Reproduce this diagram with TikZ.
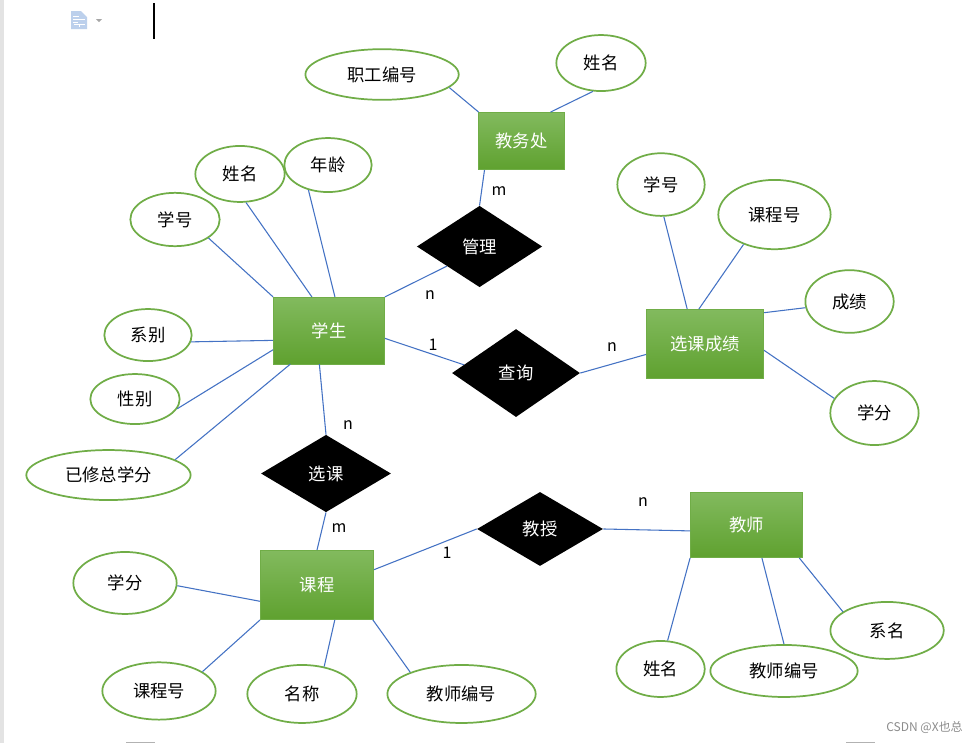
\documentclass[tikz,border=0pt]{standalone}
\usepackage{xcolor}
\usepackage{fontspec}
\setmainfont{Noto Sans CJK SC}
\usetikzlibrary{positioning,shapes.geometric}
\definecolor{ErGreen}{HTML}{70AD47}
\definecolor{ErTop}{HTML}{82BA5E}
\definecolor{ErBottom}{HTML}{5FA12F}
\definecolor{ErBlue}{HTML}{4472C4}
\definecolor{ErIcon}{HTML}{BCD0EC}

\begin{document}
\begin{tikzpicture}[
  x=0.75pt,y=-0.75pt,
  on grid,
  font=\fontsize{13}{15}\selectfont,
  entity/.style={draw=ErGreen,top color=ErTop,bottom color=ErBottom,text=white,inner sep=0pt},
  relation/.style={diamond,fill=black,text=white,inner sep=0pt},
  attr/.style={ellipse,draw=ErGreen,line width=1.3pt,fill=white,inner sep=0pt},
  link/.style={ErBlue,line width=0.8pt},
  card/.style={font=\fontsize{12}{14}\selectfont,inner sep=0pt}
]
  \useasboundingbox (0,0) rectangle (980,743);
  \fill[white] (0,0) rectangle (980,743);
  \fill[black!11] (0,0) rectangle (4,743);
  \fill[ErIcon] (71,11) -- (81,11) -- (87,17) -- (87,29) -- (71,29) -- cycle;
  \draw[white,line width=0.7pt] (73,16) -- (79,16) (73,19) -- (85,19) (73,22) -- (78,22) (74,24) -- (85,24) (79,24) -- (79,27);
  \fill[black!35] (96,19) -- (102,19) -- (99,22) -- cycle;
  \fill[black] (153,3) rectangle (155,39);
  \fill[black!30] (126,742) rectangle (155,743);
  \fill[black!30] (846,742) rectangle (875,743);

  \node[entity,minimum width=83.5pt,minimum height=50pt] (xuesheng) at (329,330.5) {学生};
  \node[relation,minimum width=94pt,minimum height=61pt,above right=63pt and 112.9pt of xuesheng] (guanli) {管理};
  \node[relation,minimum width=96pt,minimum height=66pt,below right=31.9pt and 140.25pt of xuesheng] (chaxun) {查询};
  \node[relation,minimum width=97.5pt,minimum height=58pt,below left=107.25pt and 2.25pt of xuesheng] (xuanke) {选课};
  \node[entity,minimum width=64.5pt,minimum height=43pt,above right=79.1pt and 31.5pt of guanli] (jiaowuchu) {教务处};
  \node[entity,minimum width=88pt,minimum height=52pt,above right=21.75pt and 141.75pt of chaxun] (chengji) {选课成绩};
  \node[entity,minimum width=85pt,minimum height=52pt,below left=83.6pt and 6.75pt of xuanke] (kecheng) {课程};
  \node[relation,minimum width=94.5pt,minimum height=55.5pt,above right=42pt and 167.25pt of kecheng] (jiaoshou) {教授};
  \node[entity,minimum width=84.25pt,minimum height=49pt,above right=3pt and 154.9pt of jiaoshou] (jiaoshi) {教师};

  \node[attr,minimum width=115pt,minimum height=38pt,above left=49.9pt and 104.6pt of jiaowuchu] (gonghao) {职工编号};
  \node[attr,minimum width=67pt,minimum height=42pt,above right=58.5pt and 59.6pt of jiaowuchu] (wuname) {姓名};

  \node[attr,minimum width=67pt,minimum height=42pt,above left=117.4pt and 66.75pt of xuesheng] (stuname) {姓名};
  \node[attr,minimum width=65.5pt,minimum height=40.5pt,above left=124.1pt and 0.75pt of xuesheng] (stuage) {年龄};
  \node[attr,minimum width=67pt,minimum height=40pt,above left=83.25pt and 115.5pt of xuesheng] (stuid) {学号};
  \node[attr,minimum width=65.5pt,minimum height=39pt,below left=3.4pt and 135.75pt of xuesheng] (studept) {系别};
  \node[attr,minimum width=67pt,minimum height=37.5pt,below left=51.4pt and 145.5pt of xuesheng] (stusex) {性别};
  \node[attr,minimum width=123.25pt,minimum height=37.5pt,below left=108.4pt and 165.4pt of xuesheng] (stucredit) {已修总学分};

  \node[attr,minimum width=65.5pt,minimum height=47pt,above left=119.6pt and 33pt of chengji] (scid) {学号};
  \node[attr,minimum width=84.25pt,minimum height=52pt,above right=97.1pt and 52.1pt of chengji] (sccourse) {课程号};
  \node[attr,minimum width=66.25pt,minimum height=47pt,above right=31.9pt and 108.4pt of chengji] (scscore) {成绩};
  \node[attr,minimum width=66.25pt,minimum height=48pt,below right=51.75pt and 127.1pt of chengji] (sccredit) {学分};

  \node[attr,minimum width=77.5pt,minimum height=46.5pt,above left=1.5pt and 144pt of kecheng] (cocredit) {学分};
  \node[attr,minimum width=85pt,minimum height=43pt,below left=79.5pt and 118.5pt of kecheng] (coid) {课程号};
  \node[attr,minimum width=82pt,minimum height=43.5pt,below left=81.75pt and 11.25pt of kecheng] (coname) {名称};
  \node[attr,minimum width=111.25pt,minimum height=43.5pt,below right=81.75pt and 108.4pt of kecheng] (coteacher) {教师编号};

  \node[attr,minimum width=66.25pt,minimum height=42pt,below left=108pt and 64.5pt of jiaoshi] (tename) {姓名};
  \node[attr,minimum width=110.5pt,minimum height=39pt,below right=109.5pt and 28.1pt of jiaoshi] (teid) {教师编号};
  \node[attr,minimum width=85pt,minimum height=42.75pt,below right=79.1pt and 105.4pt of jiaoshi] (tedept) {系名};

  \node[card,above right=41.6pt and 14.6pt of guanli] (cardm) {m};
  \node[card,below left=36.4pt and 37.1pt of guanli] (cardn) {n};
  \node[card,above left=21pt and 62.25pt of chaxun] (cardone) {1};
  \node[card,above right=19.5pt and 72pt of chaxun] (cardnb) {n};
  \node[card,above right=36.4pt and 16.5pt of xuanke] (cardnc) {n};
  \node[card,below right=40.9pt and 9.75pt of xuanke] (cardmb) {m};
  \node[card,below left=18pt and 69.75pt of jiaoshou] (cardoneb) {1};
  \node[card,above right=20.25pt and 77.25pt of jiaoshou] (cardnd) {n};

  \node[text=black!45,font=\fontsize{9}{11}\selectfont,inner sep=0pt] (mark) at (924.5,727) {CSDN @X也总};

  \draw[link] (gonghao.-11) -- (jiaowuchu.146);
  \draw[link] (wuname.-106) -- (jiaowuchu.45);
  \draw[link] (jiaowuchu.218.5) -- (guanli.north);
  \draw[link] (guanli.211) -- (xuesheng.north east);
  \draw[link] (stuname.-78) -- (xuesheng.117);
  \draw[link] (stuage.232) -- (xuesheng.80);
  \draw[link] (stuid.-29) -- (xuesheng.north west);
  \draw[link] (studept.-9) -- (xuesheng.190);
  \draw[link] (stusex.-13) -- (xuesheng.199);
  \draw[link] (stucredit.13) -- (xuesheng.221);
  \draw[link] (xuesheng.-8.6) -- (chaxun.171);
  \draw[link] (chaxun.east) -- (chengji.190);
  \draw[link] (scid.-85) -- (chengji.117);
  \draw[link] (sccourse.224) -- (chengji.100);
  \draw[link] (scscore.188.5) -- (chengji.28);
  \draw[link] (sccredit.160) -- (chengji.-6);
  \draw[link] (xuesheng.-106.6) -- (xuanke.north);
  \draw[link] (xuanke.south) -- (kecheng.north);
  \draw[link] (kecheng.15) -- (jiaoshou.west);
  \draw[link] (jiaoshou.east) -- (jiaoshi.-174);
  \draw[link] (kecheng.196.6) -- (cocredit.-3);
  \draw[link] (kecheng.south west) -- (coid.24);
  \draw[link] (kecheng.-63) -- (coname.51);
  \draw[link] (kecheng.-32.5) -- (coteacher.157.6);
  \draw[link] (jiaoshi.south west) -- (tename.76);
  \draw[link] (jiaoshi.-65) -- (teid.north);
  \draw[link] (jiaoshi.-32.6) -- (tedept.157);
\end{tikzpicture}
\end{document}
